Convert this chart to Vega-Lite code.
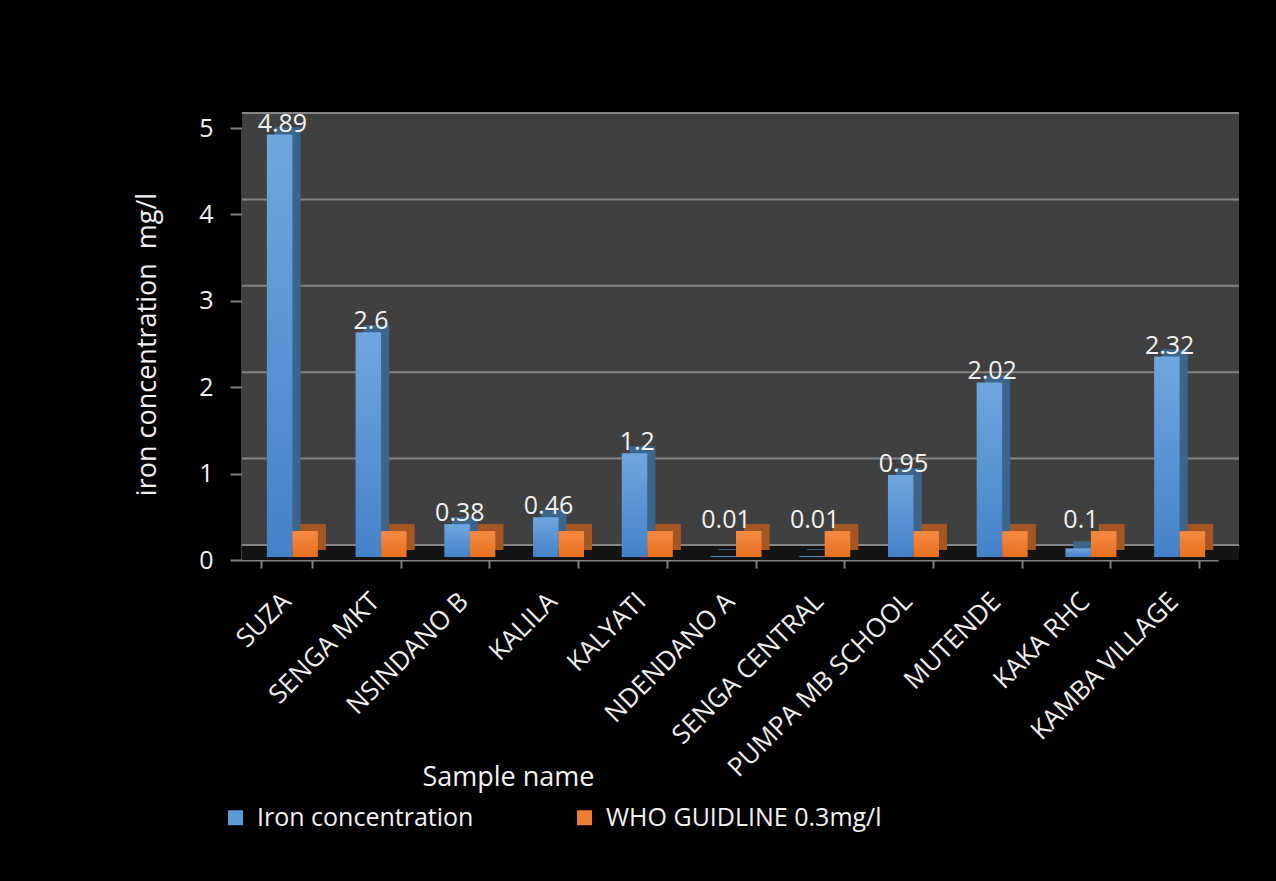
{
  "$schema": "https://vega.github.io/schema/vega-lite/v6.json",
  "width": 976,
  "height": 432,
  "autosize": {"type": "none"},
  "padding": {"left": 242, "top": 128, "right": 58, "bottom": 321},
  "background": "#000000",
  "config": {
    "view": {"stroke": null},
    "font": "Open Sans",
    "axis": {"labelFont": "Open Sans", "titleFont": "Open Sans"},
    "legend": {"labelFont": "Open Sans"}
  },
  "datasets": {
    "main": [
      {"sample": "SUZA", "series": "Iron concentration", "value": 4.89},
      {"sample": "SUZA", "series": "WHO GUIDLINE 0.3mg/l", "value": 0.3},
      {"sample": "SENGA MKT", "series": "Iron concentration", "value": 2.6},
      {"sample": "SENGA MKT", "series": "WHO GUIDLINE 0.3mg/l", "value": 0.3},
      {"sample": "NSINDANO B", "series": "Iron concentration", "value": 0.38},
      {"sample": "NSINDANO B", "series": "WHO GUIDLINE 0.3mg/l", "value": 0.3},
      {"sample": "KALILA", "series": "Iron concentration", "value": 0.46},
      {"sample": "KALILA", "series": "WHO GUIDLINE 0.3mg/l", "value": 0.3},
      {"sample": "KALYATI", "series": "Iron concentration", "value": 1.2},
      {"sample": "KALYATI", "series": "WHO GUIDLINE 0.3mg/l", "value": 0.3},
      {"sample": "NDENDANO A", "series": "Iron concentration", "value": 0.01},
      {"sample": "NDENDANO A", "series": "WHO GUIDLINE 0.3mg/l", "value": 0.3},
      {"sample": "SENGA CENTRAL", "series": "Iron concentration", "value": 0.01},
      {"sample": "SENGA CENTRAL", "series": "WHO GUIDLINE 0.3mg/l", "value": 0.3},
      {"sample": "PUMPA MB SCHOOL", "series": "Iron concentration", "value": 0.95},
      {"sample": "PUMPA MB SCHOOL", "series": "WHO GUIDLINE 0.3mg/l", "value": 0.3},
      {"sample": "MUTENDE", "series": "Iron concentration", "value": 2.02},
      {"sample": "MUTENDE", "series": "WHO GUIDLINE 0.3mg/l", "value": 0.3},
      {"sample": "KAKA RHC", "series": "Iron concentration", "value": 0.1},
      {"sample": "KAKA RHC", "series": "WHO GUIDLINE 0.3mg/l", "value": 0.3},
      {"sample": "KAMBA VILLAGE", "series": "Iron concentration", "value": 2.32},
      {"sample": "KAMBA VILLAGE", "series": "WHO GUIDLINE 0.3mg/l", "value": 0.3}
    ],
    "grid": [
      {"level": 0}, {"level": 1}, {"level": 2}, {"level": 3}, {"level": 4}, {"level": 5}
    ],
    "wall": [{"part": "wall"}]
  },
  "data": {"name": "main"},
  "resolve": {"scale": {"y": "independent"}},
  "layer": [
    {
      "layer": [
        {
          "data": {"name": "wall"},
          "mark": {"type": "rect", "fill": "#404040", "xOffset": 21, "yOffset": -15, "y2Offset": -15},
          "encoding": {
            "y": {"datum": 0, "type": "quantitative", "scale": {"domain": [0, 5], "nice": false, "zero": true}},
            "y2": {"datum": 5}
          }
        },
        {
          "data": {"name": "wall"},
          "mark": {"type": "rect", "fill": "#141414", "xOffset": 21},
          "encoding": {
            "y": {"datum": 0, "type": "quantitative"},
            "y2": {"datum": 0.17}
          }
        },
        {
          "data": {"name": "grid"},
          "mark": {"type": "rule", "stroke": "#858585", "strokeWidth": 2, "xOffset": 21, "yOffset": -15},
          "encoding": {
            "y": {"field": "level", "type": "quantitative"}
          }
        },
        {
          "transform": [{"filter": "datum.series === 'Iron concentration'"}],
          "mark": {"type": "bar", "width": {"band": 0.5}, "xOffset": 1.25, "yOffset": -10},
          "encoding": {
            "x": {"field": "sample", "type": "nominal", "sort": null,
              "scale": {"paddingInner": 0.425, "paddingOuter": 0.2125},
              "axis": {
                "title": "Sample name",
                "titleColor": "#f2f2f2",
                "titleFontSize": 27,
                "titleFontWeight": "normal",
                "titleX": 266,
                "titleY": 217,
                "titleBaseline": "middle",
                "titleAlign": "center",
                "labelAngle": -45,
                "labelAlign": "right",
                "labelBaseline": "middle",
                "labelFontSize": 26,
                "labelColor": "#eeeeee",
                "labelPadding": 29,
                "labelLimit": 500,
                "tickBand": "extent",
                "tickSize": 8,
                "tickColor": "#808080",
                "tickWidth": 2,
                "domainColor": "#808080",
                "domainWidth": 2,
                "grid": false
              }
            },
            "y": {"field": "value", "type": "quantitative",
              "axis": {
                "title": "iron concentration\u00a0 mg/l",
                "titleColor": "#f2f2f2",
                "titleFontSize": 27,
                "titleFontWeight": "normal",
                "titlePadding": 37,
                "values": [0, 1, 2, 3, 4, 5],
                "format": "d",
                "labelFontSize": 25,
                "labelColor": "#f2f2f2",
                "labelPadding": 17,
                "tickSize": 12,
                "tickColor": "#808080",
                "tickWidth": 2,
                "domainColor": "#808080",
                "domainWidth": 2,
                "grid": false
              }
            },
            "color": {"field": "series", "type": "nominal",
              "scale": {"domain": ["Iron concentration", "WHO GUIDLINE 0.3mg/l"], "range": ["#5b9bd5", "#ed7d31"]},
              "legend": {
                "title": null,
                "orient": "none",
                "legendX": -19,
                "legendY": 677,
                "direction": "horizontal",
                "symbolType": "square",
                "symbolSize": 225,
                "symbolStrokeWidth": 0,
                "labelFontSize": 25,
                "labelColor": "#f2f2f2",
                "labelOffset": 9,
                "labelLimit": 500,
                "columnPadding": 98,
                "padding": 0
              }
            }
          }
        },
        {
          "transform": [{"filter": "datum.series === 'Iron concentration'"}],
          "mark": {"type": "bar", "width": {"band": 0.5}, "xOffset": 1.25, "yOffset": -10, "color": "#000000", "opacity": 0.35},
          "encoding": {
            "x": {"field": "sample", "type": "nominal", "sort": null},
            "y": {"field": "value", "type": "quantitative"}
          }
        },
        {
          "transform": [{"filter": "datum.series === 'Iron concentration'"}],
          "mark": {"type": "bar", "width": {"band": 0.5}, "xOffset": -6.75, "yOffset": -3,
            "fill": {"gradient": "linear", "x1": 0, "y1": 0, "x2": 0, "y2": 1,
              "stops": [{"offset": 0, "color": "#6fa6de"}, {"offset": 1, "color": "#4482c9"}]}},
          "encoding": {
            "x": {"field": "sample", "type": "nominal", "sort": null},
            "y": {"field": "value", "type": "quantitative"}
          }
        },
        {
          "transform": [{"filter": "datum.series === 'WHO GUIDLINE 0.3mg/l'"}],
          "mark": {"type": "bar", "width": {"band": 0.5}, "xOffset": 26.75, "yOffset": -10},
          "encoding": {
            "x": {"field": "sample", "type": "nominal", "sort": null},
            "y": {"field": "value", "type": "quantitative"},
            "color": {"field": "series", "type": "nominal"}
          }
        },
        {
          "transform": [{"filter": "datum.series === 'WHO GUIDLINE 0.3mg/l'"}],
          "mark": {"type": "bar", "width": {"band": 0.5}, "xOffset": 26.75, "yOffset": -10, "color": "#000000", "opacity": 0.3},
          "encoding": {
            "x": {"field": "sample", "type": "nominal", "sort": null},
            "y": {"field": "value", "type": "quantitative"}
          }
        },
        {
          "transform": [{"filter": "datum.series === 'WHO GUIDLINE 0.3mg/l'"}],
          "mark": {"type": "bar", "width": {"band": 0.5}, "xOffset": 18.75, "yOffset": -3,
            "fill": {"gradient": "linear", "x1": 0, "y1": 0, "x2": 0, "y2": 1,
              "stops": [{"offset": 0, "color": "#f68a44"}, {"offset": 1, "color": "#e8701f"}]}},
          "encoding": {
            "x": {"field": "sample", "type": "nominal", "sort": null},
            "y": {"field": "value", "type": "quantitative"}
          }
        }
      ]
    },
    {
      "transform": [{"filter": "datum.series === 'Iron concentration'"}],
      "mark": {"type": "text", "baseline": "bottom", "align": "center", "xOffset": -4, "dy": -1, "fontSize": 25, "color": "#f2f2f2", "font": "Open Sans"},
      "encoding": {
        "x": {"field": "sample", "type": "nominal", "sort": null},
        "y": {"field": "value", "type": "quantitative",
          "scale": {"domain": [0.3, 5], "range": [406.08, 0], "clamp": true},
          "axis": null},
        "text": {"field": "value", "type": "quantitative"}
      }
    }
  ]
}
